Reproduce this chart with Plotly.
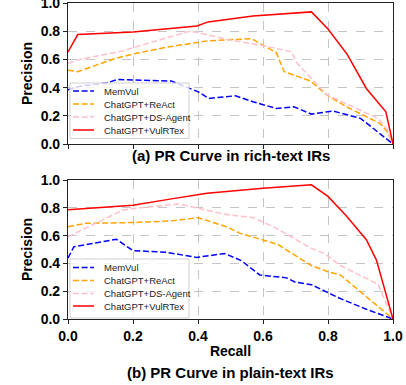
import plotly.graph_objects as go
from plotly.subplots import make_subplots

# ---- data: (a) rich-text IRs ----
a_memvul_r = [0.0, 0.036, 0.12, 0.152, 0.318, 0.4, 0.433, 0.515, 0.569, 0.641, 0.695, 0.749, 0.815, 0.9, 1.0]
a_memvul_p = [0.385, 0.41, 0.433, 0.458, 0.446, 0.371, 0.323, 0.342, 0.30, 0.252, 0.264, 0.212, 0.234, 0.182, 0.0]
a_react_r = [0.0, 0.03, 0.15, 0.21, 0.303, 0.4, 0.431, 0.565, 0.641, 0.665, 0.746, 0.797, 0.856, 0.959, 0.983, 1.0]
a_react_p = [0.524, 0.513, 0.61, 0.643, 0.686, 0.718, 0.732, 0.747, 0.648, 0.513, 0.447, 0.347, 0.265, 0.147, 0.085, 0.0]
a_ds_r = [0.0, 0.036, 0.159, 0.374, 0.4, 0.497, 0.59, 0.687, 0.705, 0.754, 0.797, 0.954, 0.983, 1.0]
a_ds_p = [0.572, 0.60, 0.655, 0.80, 0.79, 0.738, 0.702, 0.655, 0.572, 0.454, 0.348, 0.182, 0.10, 0.0]
a_vul_r = [0.0, 0.03, 0.2, 0.397, 0.431, 0.569, 0.749, 0.8, 0.859, 0.918, 0.978, 1.0]
a_vul_p = [0.653, 0.776, 0.795, 0.837, 0.866, 0.908, 0.937, 0.816, 0.636, 0.394, 0.228, 0.0]

# ---- data: (b) plain-text IRs ----
b_memvul_r = [0.0, 0.018, 0.149, 0.2, 0.303, 0.395, 0.482, 0.533, 0.59, 0.672, 0.698, 0.749, 0.836, 0.918, 1.0]
b_memvul_p = [0.438, 0.52, 0.573, 0.492, 0.48, 0.443, 0.471, 0.42, 0.317, 0.296, 0.266, 0.247, 0.149, 0.07, 0.0]
b_react_r = [0.0, 0.054, 0.2, 0.318, 0.4, 0.487, 0.528, 0.605, 0.646, 0.746, 0.8, 0.838, 0.949, 1.0]
b_react_p = [0.664, 0.688, 0.694, 0.706, 0.729, 0.664, 0.618, 0.568, 0.536, 0.388, 0.34, 0.317, 0.101, 0.0]
b_ds_r = [0.0, 0.169, 0.2, 0.341, 0.41, 0.487, 0.569, 0.631, 0.744, 0.79, 0.836, 0.954, 1.0]
b_ds_p = [0.592, 0.784, 0.795, 0.828, 0.792, 0.751, 0.73, 0.665, 0.514, 0.47, 0.388, 0.25, 0.0]
b_vul_r = [0.0, 0.2, 0.323, 0.428, 0.6, 0.749, 0.8, 0.856, 0.918, 0.949, 1.0]
b_vul_p = [0.786, 0.818, 0.866, 0.904, 0.94, 0.965, 0.882, 0.742, 0.57, 0.424, 0.0]

names = ["MemVul", "ChatGPT+ReAct", "ChatGPT+DS-Agent", "ChatGPT+VulRTex"]
colors = ["#0000ff", "#ffa500", "#ffc0cb", "#ff0000"]
dashes = ["6px,2.6px", "6px,2.6px", "6px,2.6px", "solid"]
ticks = [0.0, 0.2, 0.4, 0.6, 0.8, 1.0]
tick_labels = ["0.0", "0.2", "0.4", "0.6", "0.8", "1.0"]
titles = ["(a) PR Curve in rich-text IRs", "(b) PR Curve in plain-text IRs"]

W, H = 406, 385
ML, MR, MT, MB = 68, 13, 3, 66
ph = H - MT - MB
pw = W - ML - MR

def py(pix):
    return (H - MB - pix) / ph

# plot-area pixel boxes (top, bottom) for each panel
panels = [(3, 144), (180, 319)]

fig = make_subplots(rows=2, cols=1)
fig.update_layout(
    yaxis=dict(domain=[py(panels[0][1]), py(panels[0][0])]),
    yaxis2=dict(domain=[py(panels[1][1]), py(panels[1][0])]),
)

data = [
    [(a_memvul_r, a_memvul_p), (a_react_r, a_react_p), (a_ds_r, a_ds_p), (a_vul_r, a_vul_p)],
    [(b_memvul_r, b_memvul_p), (b_react_r, b_react_p), (b_ds_r, b_ds_p), (b_vul_r, b_vul_p)],
]
for row, series in enumerate(data, start=1):
    for i, (r, p) in enumerate(series):
        fig.add_trace(go.Scatter(
            x=r, y=p, mode="lines", name=names[i], showlegend=False,
            line=dict(color=colors[i], width=1.5, dash=dashes[i]),
        ), row=row, col=1)

font_family = "Liberation Sans, Arial, sans-serif"
axis_common = dict(
    range=[0, 1], tickvals=ticks, ticktext=tick_labels, automargin=False,
    ticklabeloverflow="allow",
    showline=True, linecolor="#222", linewidth=1.1, mirror=True,
    ticks="outside", ticklen=4, tickcolor="#222", tickwidth=1,
    showgrid=True, gridcolor="#c4c4c4", griddash="dash", gridwidth=0.8,
    zeroline=False,
    tickfont=dict(family=font_family, size=14, color="black", weight="bold"),
)
for row in (1, 2):
    fig.update_xaxes(**axis_common, row=row, col=1)
    fig.update_yaxes(**axis_common, row=row, col=1,
                     title=dict(text="<b>Precision</b>", standoff=4,
                                font=dict(family=font_family, size=14, color="black")))
fig.update_xaxes(showticklabels=False, row=1, col=1)
fig.update_xaxes(title=dict(text="<b>Recall</b>", standoff=3,
                            font=dict(family=font_family, size=14, color="black")),
                 row=2, col=1)

# ---- custom legends (matplotlib-style compact boxes) ----
legend_layout = [
    # (box top, box bottom, row y-centres) in pixels
    (83, 138.5, [91, 104, 117, 130]),
    (259, 318, [267.5, 280.5, 293.5, 306]),
]
box_l, box_r = 70, 189
line_l, line_r, text_l = 73, 94, 102

def fx(px):
    return (px - ML) / pw

for k, (btop, bbot, rows) in enumerate(legend_layout):
    ptop, pbot = panels[k]
    hgt = pbot - ptop
    yax = "y" if k == 0 else "y2"
    xax = "x" if k == 0 else "x2"
    def fy(pix):
        return (pbot - pix) / hgt
    fig.add_shape(type="rect", xref=xax + " domain", yref=yax + " domain",
                  x0=fx(box_l), x1=fx(box_r), y0=fy(bbot), y1=fy(btop),
                  line=dict(color="#d0d0d0", width=1),
                  fillcolor="rgba(255,255,255,0.8)", layer="above")
    for i, yc in enumerate(rows):
        fig.add_shape(type="line", xref=xax + " domain", yref=yax + " domain",
                      x0=fx(line_l), x1=fx(line_r), y0=fy(yc), y1=fy(yc),
                      line=dict(color=colors[i], width=1.5, dash=dashes[i]),
                      layer="above")
        fig.add_annotation(text=names[i], xref=xax + " domain", yref=yax + " domain",
                           x=fx(text_l), y=fy(yc), xanchor="left", yanchor="middle",
                           showarrow=False,
                           font=dict(family=font_family, size=9.5, color="#222"))

for t, ypix in zip(titles, (155, 372)):
    fig.add_annotation(text="<b>" + t + "</b>", xref="paper", yref="paper",
                       x=0.5, y=py(ypix), xanchor="center", yanchor="middle",
                       showarrow=False,
                       font=dict(family=font_family, size=15, color="black"))

fig.update_layout(
    width=W, height=H,
    margin=dict(l=ML, r=MR, t=MT, b=MB),
    paper_bgcolor="white", plot_bgcolor="white",
    showlegend=False,
)

fig.write_html("out.html",
               config={"displayModeBar": False},
               post_script="document.body.style.margin='0';document.body.style.overflow='hidden';")
